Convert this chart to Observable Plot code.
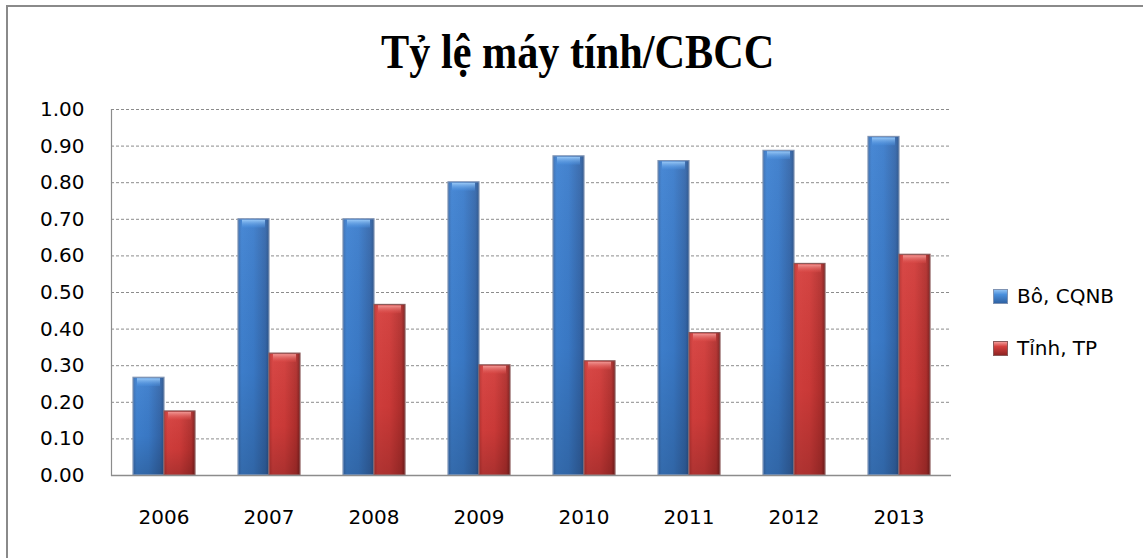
<!DOCTYPE html>
<html>
<head>
<meta charset="utf-8">
<script src="https://cdn.jsdelivr.net/npm/d3@7"></script>
<script src="https://cdn.jsdelivr.net/npm/@observablehq/plot@0.6"></script>
<style>
  html, body { margin: 0; padding: 0; background: #fff; }
  #wrap { position: relative; width: 1143px; height: 558px; overflow: hidden; background: #fff; }
  #border { position: absolute; left: 6px; top: 5px; right: -10px; bottom: -10px; border-left: 2px solid #8a8a8a; border-top: 2px solid #8a8a8a; }
  #title { position: absolute; left: 10px; width: 1133px; top: 24px; text-align: center;
           font-family: "Liberation Serif", "DejaVu Serif", serif; font-weight: bold; font-size: 48px; color: #000;
           transform: scaleX(0.88); transform-origin: 576px 0; }
  #chart { position: absolute; left: 0; top: 0; }
  #legend { position: absolute; left: 993px; top: 283px; font-family: "DejaVu Sans", sans-serif; font-size: 20px; color: #000; }
  .item { display: flex; align-items: center; height: 26px; margin-bottom: 26px; }
  .sw { width: 15px; height: 15px; margin-right: 9px; box-sizing: border-box; }
</style>
</head>
<body>
<div id="wrap">
  <div id="border"></div>
  <div id="title">Tỷ lệ máy tính/CBCC</div>
  <div id="chart"></div>
  <div id="legend"></div>
</div>
<script>
const years = ["2006", "2007", "2008", "2009", "2010", "2011", "2012", "2013"];
const seriesNames = ["Bô, CQNB", "Tỉnh, TP"];
const boValues = [0.267, 0.700, 0.700, 0.801, 0.872, 0.859, 0.887, 0.925];
const tinhValues = [0.175, 0.333, 0.466, 0.301, 0.312, 0.389, 0.578, 0.603];
const yTicks = [0, 0.1, 0.2, 0.3, 0.4, 0.5, 0.6, 0.7, 0.8, 0.9, 1.0];

const boData = years.map((y, i) => ({year: y, series: seriesNames[0], value: boValues[i]}));
const tinhData = years.map((y, i) => ({year: y, series: seriesNames[1], value: tinhValues[i]}));
const capH = 0.024;

function bars(data, grad, cap, stroke) {
  return [
    Plot.barY(data, {fx: "year", x: "series", y: "value", fill: `url(#${grad})`, stroke: stroke, strokeWidth: 1.2}),
    Plot.barY(data, {fx: "year", x: "series", y: "value", fill: "url(#gShade)", inset: 1}),
    Plot.barY(data, {fx: "year", x: "series", y1: d => d.value - capH, y2: "value", fill: `url(#${cap})`, insetLeft: 4, insetRight: 4, insetTop: 1})
  ];
}

const chart = Plot.plot({
  width: 1143,
  height: 558,
  marginLeft: 110,
  marginRight: 191,
  marginTop: 109,
  marginBottom: 83,
  style: {fontFamily: "DejaVu Sans, sans-serif", fontSize: "20px", color: "#000", background: "transparent"},
  fx: {domain: years, padding: 0, label: null, tickSize: 0, tickPadding: 34, axis: "bottom"},
  x: {domain: seriesNames, axis: null, paddingInner: 0, paddingOuter: 0.66},
  y: {domain: [0, 1], ticks: yTicks, tickFormat: d => d.toFixed(2), tickSize: 0, tickPadding: 27, label: null},
  marks: [
    Plot.ruleY(yTicks.filter(v => v > 0), {stroke: "#8c8c8c", strokeDasharray: "3,2", strokeWidth: 1}),
    Plot.frame({anchor: "left", facetAnchor: "left", stroke: "#8c8c8c", strokeWidth: 1.2}),
    ...bars(boData, "gBlue", "gBlueCap", "#7f93b3"),
    ...bars(tinhData, "gRed", "gRedCap", "#8a5a5a"),
    Plot.ruleY([0], {stroke: "#8c8c8c", strokeWidth: 1.5})
  ]
});

const svg = chart.tagName.toLowerCase() === "svg" ? chart : chart.querySelector("svg");
const defs = document.createElementNS("http://www.w3.org/2000/svg", "defs");
defs.innerHTML = `
  <linearGradient id="gBlue" x1="0" y1="0" x2="1" y2="0">
    <stop offset="0" stop-color="#3a6fb2"/>
    <stop offset="0.12" stop-color="#3f82d2"/>
    <stop offset="0.5" stop-color="#3b7ccb"/>
    <stop offset="0.88" stop-color="#3467ab"/>
    <stop offset="1" stop-color="#2b548c"/>
  </linearGradient>
  <linearGradient id="gRed" x1="0" y1="0" x2="1" y2="0">
    <stop offset="0" stop-color="#b83230"/>
    <stop offset="0.12" stop-color="#d63f3d"/>
    <stop offset="0.5" stop-color="#d13b39"/>
    <stop offset="0.88" stop-color="#b22f2d"/>
    <stop offset="1" stop-color="#7f1f1e"/>
  </linearGradient>
  <linearGradient id="gShade" x1="0" y1="0" x2="0" y2="1">
    <stop offset="0" stop-color="#ffffff" stop-opacity="0.05"/>
    <stop offset="0.6" stop-color="#000000" stop-opacity="0.04"/>
    <stop offset="1" stop-color="#000000" stop-opacity="0.18"/>
  </linearGradient>
  <linearGradient id="gBlueCap" x1="0" y1="0" x2="0" y2="1">
    <stop offset="0" stop-color="#9ccbf8" stop-opacity="0.95"/>
    <stop offset="1" stop-color="#4a90e0" stop-opacity="0.3"/>
  </linearGradient>
  <linearGradient id="gRedCap" x1="0" y1="0" x2="0" y2="1">
    <stop offset="0" stop-color="#f29a97" stop-opacity="0.95"/>
    <stop offset="1" stop-color="#dc4a47" stop-opacity="0.3"/>
  </linearGradient>`;
svg.insertBefore(defs, svg.firstChild);
document.getElementById("chart").appendChild(chart);

const legend = document.getElementById("legend");
const swatchBg = [
  "linear-gradient(#8ec0f2 0%, #4a8fdc 35%, #2f62a3 100%)",
  "linear-gradient(#f29a97 0%, #d4403e 35%, #8f2423 100%)"
];
const swatchBorder = ["#7f93b3", "#8a5a5a"];
seriesNames.forEach((name, i) => {
  const item = document.createElement("div");
  item.className = "item";
  const sw = document.createElement("div");
  sw.className = "sw";
  sw.style.background = swatchBg[i];
  sw.style.border = `1px solid ${swatchBorder[i]}`;
  const label = document.createElement("span");
  label.textContent = name;
  item.appendChild(sw);
  item.appendChild(label);
  legend.appendChild(item);
});
</script>
</body>
</html>
